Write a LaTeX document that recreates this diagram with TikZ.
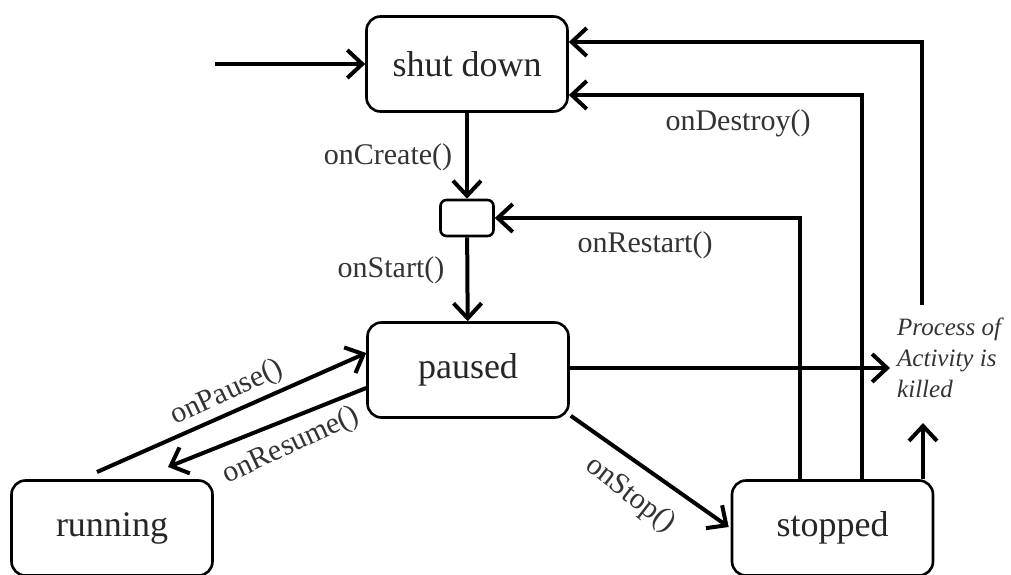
\documentclass[tikz,border=0pt]{standalone}
\usepackage{fontspec}
\setmainfont{Liberation Serif}
\usetikzlibrary{arrows.meta}
\begin{document}
\begin{tikzpicture}[x=1pt,y=-1pt,
  state/.style={draw, rounded corners=14pt, line width=2.6pt, minimum width=201pt, minimum height=95pt, inner sep=0pt, font=\fontsize{36}{40}\selectfont, text=black!85},
  smallbox/.style={draw, rounded corners=6pt, line width=2.6pt, minimum width=53pt, minimum height=36pt, inner sep=0pt},
  lbl/.style={font=\fontsize{30}{34}\selectfont, text=black!80, inner sep=0pt},
  arr/.style={line width=4pt, -{Straight Barb[length=15pt,width=28pt]}}]
\useasboundingbox (0,0) rectangle (1011,575);
% nodes
\node[state] (shut) at (467,64) {shut down};
\node[smallbox] (small) at (467,218) {};
\node[state] (paused) at (468,370) {\raisebox{-4pt}{paused}};
\node[state] (running) at (112,528) {running};
\node[state] (stopped) at (832.5,528) {stopped};
\node[anchor=north west, align=left, inner sep=0pt, text=black!80,
      font=\fontsize{25}{31}\selectfont\itshape] (killed) at (897,318) {Process of\\Activity is\\killed};
% free ends
\coordinate (entry) at (215,64);
\coordinate (kw) at (890,368);
\coordinate (kb) at (923,423);
\coordinate (kt) at (922,305);
\coordinate (r1) at (97,472);
\coordinate (r2) at (168,467);
% connectors
\draw[arr] (entry) -- (shut.west);
\draw[arr] (shut) -- (small);
\draw[arr] (small) -- (paused);
\draw[arr] ([xshift=-32.5pt]stopped.north) |- (small.east);
\draw[arr] ([xshift=29.5pt]stopped.north) |- ([yshift=-31pt]shut.east);
\draw[arr] (kt) |- ([yshift=22pt]shut.east);
\draw[arr] (paused.east |- kw) -- (kw);
\draw[arr] ([xshift=90.5pt]stopped.north) -- (kb);
\draw[arr] ([shift={(1pt,3pt)}]paused.south east) -- ([shift={(-2pt,1pt)}]stopped.west);
\draw[arr] (r1) -- ([yshift=17pt]paused.west);
\draw[arr] ([yshift=-18pt]paused.west) -- (r2);
% labels
\node[lbl] (lcreate) at (388,157) {onCreate()};
\node[lbl] (lstart) at (391,270) {onStart()};
\node[lbl] (lrestart) at (645,245) {onRestart()};
\node[lbl] (ldestroy) at (738,123) {onDestroy()};
\node[lbl, rotate=25] (lpause) at (227,393) {onPause()};
\node[lbl, rotate=25] (lresume) at (291,446) {onResume()};
\node[lbl, rotate=-38] (lstop) at (630,495) {onStop()};
\end{tikzpicture}
\end{document}
